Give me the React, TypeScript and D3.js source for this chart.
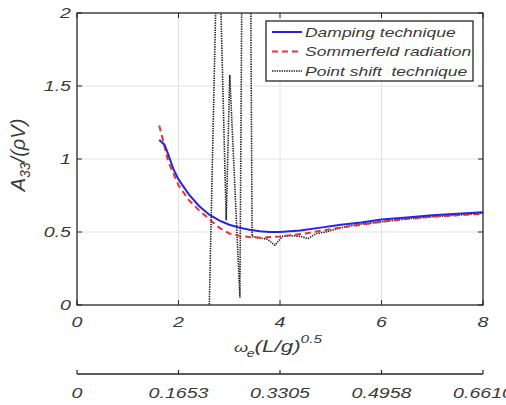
import React from 'react';
import * as d3 from 'd3';

const xTicks = [0, 2, 4, 6, 8];
const xTickLabels = ['0', '2', '4', '6', '8'];
const yTicks = [0, 0.5, 1, 1.5, 2];
const yTickLabels = ['0', '0.5', '1', '1.5', '2'];
const secTickLabels = ['0', '0.1653', '0.3305', '0.4958', '0.6610'];

const dampX = [1.62, 1.72, 1.8, 1.9, 2.0, 2.2, 2.4, 2.6, 2.8, 3.0, 3.2, 3.4, 3.6, 3.8, 4.0, 4.4, 4.8, 5.2, 5.6, 6.0, 6.5, 7.0, 7.5, 8.0];
const dampY = [1.13, 1.1, 1.03, 0.93, 0.86, 0.76, 0.68, 0.62, 0.58, 0.55, 0.53, 0.515, 0.505, 0.5, 0.5, 0.51, 0.53, 0.55, 0.565, 0.585, 0.6, 0.615, 0.625, 0.635];

const sommX = [1.62, 1.7, 1.8, 1.9, 2.0, 2.2, 2.4, 2.6, 2.8, 3.0, 3.2, 3.4, 3.6, 3.8, 4.0, 4.5, 5.0, 5.5, 6.0, 6.5, 7.0, 7.5, 8.0];
const sommY = [1.23, 1.12, 0.98, 0.9, 0.82, 0.72, 0.65, 0.59, 0.53, 0.49, 0.475, 0.465, 0.46, 0.465, 0.47, 0.49, 0.52, 0.545, 0.57, 0.59, 0.605, 0.615, 0.625];

const shiftX = [2.58, 2.78, 2.94, 3.01, 3.21, 3.34, 3.45, 3.6, 3.75, 3.9, 4.05, 4.2, 4.4, 4.55, 4.72, 4.9, 5.2, 5.5, 6.0, 6.5, 7.0, 7.5, 8.0];
const shiftY = [-0.44, 2.79, 0.58, 1.575, 0.05, 7.3, 0.47, 0.46, 0.45, 0.41, 0.47, 0.475, 0.47, 0.455, 0.49, 0.5, 0.53, 0.55, 0.57, 0.59, 0.605, 0.615, 0.63];

const legendLabels = ['Damping technique', 'Sommerfeld radiation', 'Point shift  technique'];

const W = 506, H = 405;
const L = 77, R = 483, T = 13, B = 305;
const SX = 1.4;
const textColor = '#3a3a3a';
const axisColor = '#262626';
const font = '"Liberation Sans", Arial, sans-serif';

export default function App() {
  const x = d3.scaleLinear().domain([0, 8]).range([L, R]);
  const y = d3.scaleLinear().domain([0, 2]).range([B, T]);
  const line = d3.line<[number, number]>().x(d => x(d[0])).y(d => y(d[1]));
  const damp = line(dampX.map((v, i) => [v, dampY[i]]) as [number, number][]) || '';
  const somm = line(sommX.map((v, i) => [v, sommY[i]]) as [number, number][]) || '';
  const shift = line(shiftX.map((v, i) => [v, shiftY[i]]) as [number, number][]) || '';

  const styles = [
    { stroke: '#2424e8', dash: undefined as string | undefined, width: 2 },
    { stroke: '#f03030', dash: '6,4', width: 2 },
    { stroke: '#222222', dash: '1.4,1', width: 1.6 },
  ];

  const secY = 374;

  return (
    <svg width={W} height={H} style={{ position: 'absolute', left: 0, top: 0, background: '#fff' }} fontFamily={font} fontStyle="italic">
      <defs>
        <clipPath id="plotclip">
          <rect x={L} y={T} width={R - L} height={B - T} />
        </clipPath>
      </defs>
      <rect x={0} y={0} width={W} height={H} fill="#fff" />
      {xTicks.slice(1, -1).map(t => (
        <line key={'gx' + t} x1={x(t)} x2={x(t)} y1={T} y2={B} stroke="#e2e2e2" strokeWidth={1} />
      ))}
      {yTicks.slice(1, -1).map(t => (
        <line key={'gy' + t} x1={L} x2={R} y1={y(t)} y2={y(t)} stroke="#e2e2e2" strokeWidth={1} />
      ))}
      <g clipPath="url(#plotclip)" fill="none">
        <path d={shift} stroke={styles[2].stroke} strokeWidth={styles[2].width} strokeDasharray={styles[2].dash} />
        <path d={somm} stroke={styles[1].stroke} strokeWidth={styles[1].width} strokeDasharray={styles[1].dash} />
        <path d={damp} stroke={styles[0].stroke} strokeWidth={styles[0].width} />
      </g>
      <rect x={L} y={T} width={R - L} height={B - T} fill="none" stroke={axisColor} strokeWidth={1.3} />
      {xTicks.map(t => (
        <g key={'tx' + t}>
          <line x1={x(t)} x2={x(t)} y1={B} y2={B - 5} stroke={axisColor} />
          <line x1={x(t)} x2={x(t)} y1={T} y2={T + 5} stroke={axisColor} />
        </g>
      ))}
      {yTicks.map(t => (
        <g key={'ty' + t}>
          <line x1={L} x2={L + 5} y1={y(t)} y2={y(t)} stroke={axisColor} />
          <line x1={R} x2={R - 5} y1={y(t)} y2={y(t)} stroke={axisColor} />
        </g>
      ))}
      {xTicks.map((t, i) => (
        <text key={'lx' + t} transform={`translate(${x(t)},327) scale(${SX},1)`} textAnchor="middle" fontSize={14} fill={textColor}>
          {xTickLabels[i]}
        </text>
      ))}
      {yTicks.map((t, i) => (
        <text key={'ly' + t} transform={`translate(71,${y(t) + 5}) scale(${SX},1)`} textAnchor="end" fontSize={14} fill={textColor}>
          {yTickLabels[i]}
        </text>
      ))}
      <text transform={`translate(234,352) scale(${SX},1)`} fill={textColor} fontSize={16}>
        <tspan fontSize={13}>ω</tspan>
        <tspan fontSize={10} dy={5} dx={-1}>e</tspan>
        <tspan dy={-5}>(L/g)</tspan>
        <tspan fontSize={11} dy={-9}>0.5</tspan>
      </text>
      <text transform="translate(25,155) rotate(-90)" textAnchor="middle" fill={textColor} fontSize={20}>
        <tspan>A</tspan>
        <tspan fontSize={14} dy={5}>33</tspan>
        <tspan dy={-5}>/(ρV)</tspan>
      </text>
      <line x1={L} x2={R} y1={secY} y2={secY} stroke={axisColor} strokeWidth={1.3} />
      {xTicks.map((t, i) => (
        <g key={'sx' + t}>
          <line x1={x(t)} x2={x(t)} y1={secY} y2={secY - 4} stroke={axisColor} strokeWidth={1.2} />
          <text transform={`translate(${x(t)},398) scale(${SX},1)`} textAnchor="middle" fontSize={14} fill={textColor}>
            {secTickLabels[i]}
          </text>
        </g>
      ))}
      <rect x={266} y={21} width={207} height={60} fill="#fff" stroke={axisColor} strokeWidth={1.3} />
      {legendLabels.map((lab, i) => {
        const ly = 32 + i * 19.5;
        return (
          <g key={lab}>
            <line x1={272} x2={302} y1={ly} y2={ly} stroke={styles[i].stroke} strokeWidth={styles[i].width} strokeDasharray={styles[i].dash} />
            <text transform={`translate(305,${ly + 4.5}) scale(${SX},1)`} fontSize={12.5} fill={textColor} style={{ whiteSpace: 'pre' }} xmlSpace="preserve">
              {lab}
            </text>
          </g>
        );
      })}
    </svg>
  );
}
